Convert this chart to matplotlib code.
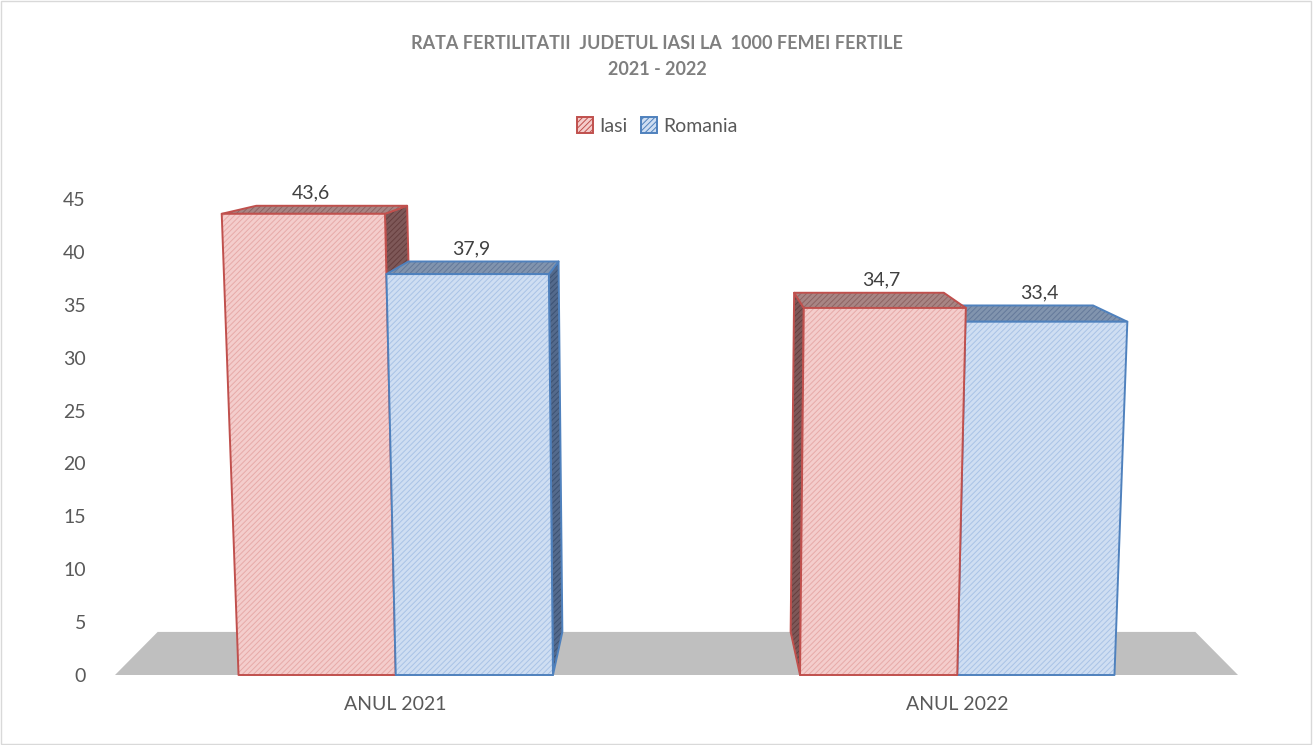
#!/usr/bin/env python3

import matplotlib
matplotlib.use("Agg")
import matplotlib.pyplot as plt
from matplotlib.patches import Polygon, Patch, Rectangle

# data
categories = ["ANUL 2021", "ANUL 2022"]
series = ["Iasi", "Romania"]
iasi = [43.6, 34.7]
romania = [37.9, 33.4]
yticks = [0, 5, 10, 15, 20, 25, 30, 35, 40, 45]

# styles (front fill, front hatch, top fill, top hatch, side fill, side hatch, edge)
styles = {
    "Iasi": ("#F4CDCC", "#E7AAA8", "#A88584", "#8E6463", "#7E5858", "#663E3E", "#C0504D"),
    "Romania": ("#CFDEF2", "#A9C3E6", "#8194AE", "#64799A", "#546A8C", "#3C5273", "#4F81BD"),
}

# perspective of the excel 3d chart
CX = 0.5      # vanishing x (data units)
EYE = 53.6    # vanishing height (data units)
DEPTH = 0.076
SPREAD = 0.00088
BAR_W = 0.28

TEXT = "#595959"
plt.rcParams['font.family'] = ['Lato', 'DejaVu Sans']
plt.rcParams['hatch.linewidth'] = 0.7


def proj(x, v, d):
    xs = CX + (x - CX) * (1 + SPREAD * v)
    xs = xs + (CX - xs) * DEPTH * d
    vs = v + (EYE - v) * DEPTH * d
    return (xs, vs)


def face(ax, pts, fill, hatch_col, edge, z, hatch="//////"):
    ax.add_patch(Polygon(pts, closed=True, facecolor=fill, edgecolor="none",
                         lw=0, zorder=z, clip_on=False))
    if hatch_col is not None:
        ax.add_patch(Polygon(pts, closed=True, facecolor="none", edgecolor=hatch_col,
                             lw=0, hatch=hatch, zorder=z, clip_on=False))
    ax.add_patch(Polygon(pts, closed=True, facecolor="none", edgecolor=edge,
                         lw=1.4, zorder=z, clip_on=False, joinstyle="round"))


def bar3d(ax, x0, x1, v, name, z):
    front, front_h, top, top_h, side, side_h, edge = styles[name]
    if (x0 + x1) / 2 < CX:
        sx = x1
    else:
        sx = x0
    face(ax, [proj(sx, 0, 0), proj(sx, v, 0), proj(sx, v, 1), proj(sx, 0, 1)],
         side, side_h, edge, z)
    face(ax, [proj(x0, v, 0), proj(x1, v, 0), proj(x1, v, 1), proj(x0, v, 1)],
         top, top_h, edge, z + 0.1)
    face(ax, [proj(x0, 0, 0), proj(x1, 0, 0), proj(x1, v, 0), proj(x0, v, 0)],
         front, front_h, edge, z + 0.2)
    lx = proj((x0 + x1) / 2, v, 0.25)[0]
    ly = proj((x0 + x1) / 2, v, 1)[1]
    ax.annotate(("%.1f" % v).replace(".", ","), (lx, ly), xytext=(0, 9),
                textcoords="offset points", ha="center", va="center",
                fontsize=14, color="#404040", zorder=20, annotation_clip=False)


def main():
    fig = plt.figure(figsize=(13.14, 7.45), dpi=100)
    ax = fig.add_axes([115 / 1314, 70 / 745, 1123 / 1314, 476 / 745])
    ax.set_xlim(-0.5, 1.5)
    ax.set_ylim(0, 45)
    for s in ax.spines.values():
        s.set_visible(False)

    # floor
    ax.add_patch(Polygon([proj(-0.5, 0, 0), proj(1.5, 0, 0), proj(1.5, 0, 1),
                          proj(-0.5, 0, 1)], closed=True, facecolor="#BFBFBF",
                         edgecolor="none", zorder=1, clip_on=False))

    bars = []
    for i in range(len(categories)):
        bars.append((i - BAR_W, i, iasi[i], "Iasi"))
        bars.append((i, i + BAR_W, romania[i], "Romania"))
    # far bars first
    bars.sort(key=lambda b: -abs((b[0] + b[1]) / 2 - CX))
    z = 2
    for x0, x1, v, name in bars:
        bar3d(ax, x0, x1, v, name, z)
        z += 1

    ax.set_xticks(range(len(categories)))
    ax.set_xticklabels(categories)
    ax.set_yticks(yticks)
    ax.tick_params(axis="x", length=0, pad=15, labelsize=14, labelcolor=TEXT)
    ax.tick_params(axis="y", length=0, pad=21, labelsize=14, labelcolor=TEXT)

    fig.text(0.5, 0.924, "RATA FERTILITATII  JUDETUL IASI LA  1000 FEMEI FERTILE\n2021 - 2022",
             ha="center", va="center", multialignment="center", fontsize=13,
             fontweight="bold", color="#7F7F7F", linespacing=1.6)

    handles = [Patch(facecolor=styles[n][0], edgecolor=styles[n][6], hatch="//////", lw=1.4)
               for n in series]
    fig.legend(handles, series, loc="center", bbox_to_anchor=(0.5, 0.831), ncol=2,
               frameon=False, fontsize=14, handlelength=0.85, handleheight=0.85,
               handletextpad=0.3, columnspacing=0.7, labelcolor=TEXT)

    fig.add_artist(Rectangle((0.001, 0.002), 0.997, 0.996, transform=fig.transFigure,
                             fill=False, edgecolor="#D9D9D9", lw=1))

    fig.savefig("out.png", dpi=100)


if __name__ == "__main__":
    main()
